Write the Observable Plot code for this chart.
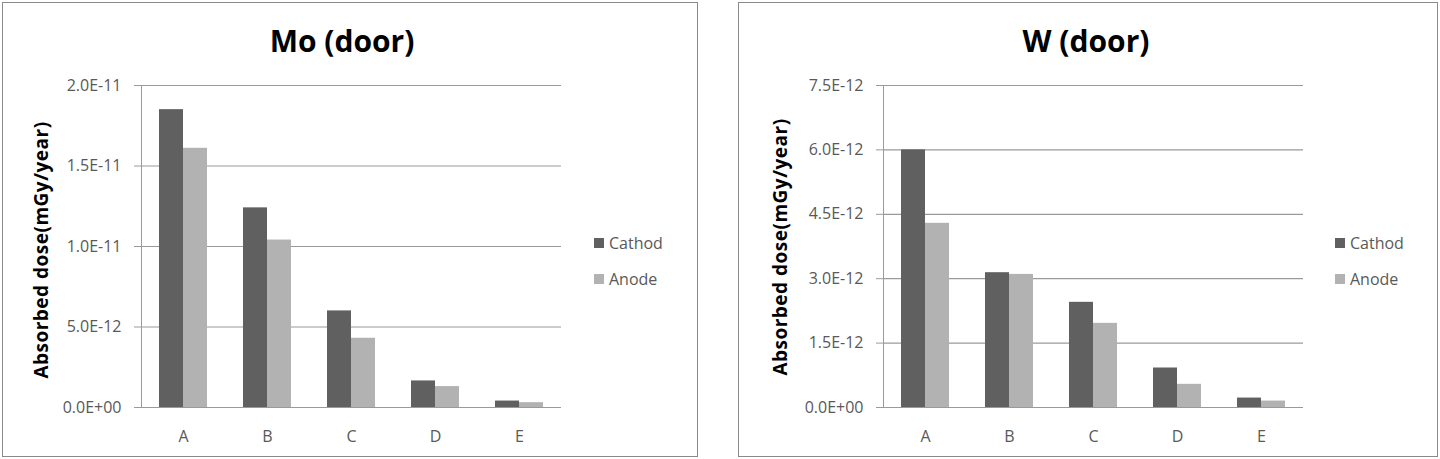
<!DOCTYPE html>
<html><head><meta charset="utf-8">
<script src="https://cdn.jsdelivr.net/npm/d3@7"></script>
<script src="https://cdn.jsdelivr.net/npm/@observablehq/plot@0.6"></script>
<style>
body{margin:0;background:#fff;font-family:"Open Sans",sans-serif;}
#root{position:relative;width:1440px;height:459px;overflow:hidden;background:#fff;}
.panel{position:absolute;border:1px solid #8a8a8a;box-sizing:border-box;}
.chart{position:absolute;top:0;width:720px;height:459px;}
.title{position:absolute;font-weight:bold;font-size:30px;color:#000;transform:translate(-50%,-50%);white-space:nowrap;line-height:1;}
.ylab{position:absolute;font-weight:bold;font-size:19px;letter-spacing:0.5px;color:#000;transform:translate(-50%,-50%) rotate(-90deg);white-space:nowrap;line-height:1;}
.leg{position:absolute;font-size:16px;color:#595959;white-space:nowrap;transform:translateY(-50%);display:flex;align-items:center;line-height:1;}
.sw{width:10px;height:10px;margin-right:5px;display:inline-block;}
.chart svg text{fill:#595959 !important;font-size:16px !important;font-family:"Open Sans",sans-serif !important;}
</style></head>
<body>
<div id="root"></div>
<script>
const categories = ["A", "B", "C", "D", "E"];
const series = ["Cathod", "Anode"];
const moCathod = [1.85e-11, 1.24e-11, 6.0e-12, 1.65e-12, 4.0e-13];
const moAnode  = [1.61e-11, 1.04e-11, 4.3e-12, 1.3e-12, 3.0e-13];
const wCathod  = [6.0e-12, 3.14e-12, 2.45e-12, 9.2e-13, 2.2e-13];
const wAnode   = [4.29e-12, 3.1e-12, 1.96e-12, 5.4e-13, 1.5e-13];
const moTicks = [0, 5e-12, 1e-11, 1.5e-11, 2e-11];
const moTickLabels = ["0.0E+00", "5.0E-12", "1.0E-11", "1.5E-11", "2.0E-11"];
const wTicks = [0, 1.5e-12, 3e-12, 4.5e-12, 6e-12, 7.5e-12];
const wTickLabels = ["0.0E+00", "1.5E-12", "3.0E-12", "4.5E-12", "6.0E-12", "7.5E-12"];
const colors = ["#606060", "#b2b2b2"];
const yTitle = "Absorbed dose(mGy/year)";

function chart(cathod, anode, ticks, labels, ml, mr) {
  const rows = categories.flatMap((c, i) => [
    {cat: c, series: series[0], v: cathod[i]},
    {cat: c, series: series[1], v: anode[i]}
  ]);
  const svg = Plot.plot({
    width: 720, height: 459,
    marginLeft: ml, marginRight: mr, marginTop: 85, marginBottom: 52,
    style: {background: "transparent", color: "#9a9a9a", fontFamily: "Open Sans", fontSize: "16px"},
    facet: {data: rows, x: "cat"},
    fx: {domain: categories, padding: 0, label: null, tickSize: 0, tickPadding: 23, axis: "bottom"},
    x: {domain: series, axis: null, paddingInner: 0, paddingOuter: 0.725},
    y: {domain: [0, ticks[ticks.length - 1]], ticks: ticks, tickFormat: d => labels[ticks.indexOf(d)],
        tickSize: 7, tickPadding: 13, label: null, line: true},
    color: {domain: series, range: colors},
    marks: [
      Plot.ruleY(ticks, {stroke: "#9a9a9a", strokeWidth: 1.2}),
      Plot.barY(rows, {x: "series", y: "v", fill: "series"})
    ]
  });
  svg.querySelectorAll("text").forEach(t => {
    t.style.fontSize = "16px"; t.style.fill = "#595959"; t.style.fontFamily = "'Open Sans', sans-serif";
  });
  return svg;
}

const root = document.getElementById("root");
function add(html, cls, style) {
  const d = document.createElement("div");
  d.className = cls; d.innerHTML = html; Object.assign(d.style, style); root.appendChild(d); return d;
}

const panels = [
  {x0: 0, title: "Mo (door)", c: moCathod, a: moAnode, t: moTicks, l: moTickLabels, ml: 141, mr: 159,
   border: [2, 2, 696, 455], tx: 342, yx: 41, yy: 250, lx: 594},
  {x0: 720, title: "W (door)", c: wCathod, a: wAnode, t: wTicks, l: wTickLabels, ml: 162, mr: 136,
   border: [738, 2, 700, 455], tx: 1086, yx: 780, yy: 247, lx: 1335}
];

for (const p of panels) {
  add("", "panel", {left: p.border[0] + "px", top: p.border[1] + "px", width: p.border[2] + "px", height: p.border[3] + "px"});
  const holder = add("", "chart", {left: p.x0 + "px"});
  holder.appendChild(chart(p.c, p.a, p.t, p.l, p.ml, p.mr));
  add(p.title, "title", {left: p.tx + "px", top: "41px"});
  add(yTitle, "ylab", {left: p.yx + "px", top: p.yy + "px"});
  series.forEach((s, i) => {
    add(`<span class="sw" style="background:${colors[i]}"></span>${s}`, "leg",
        {left: p.lx + "px", top: (i === 0 ? 243 : 279) + "px"});
  });
}
</script>
</body></html>
